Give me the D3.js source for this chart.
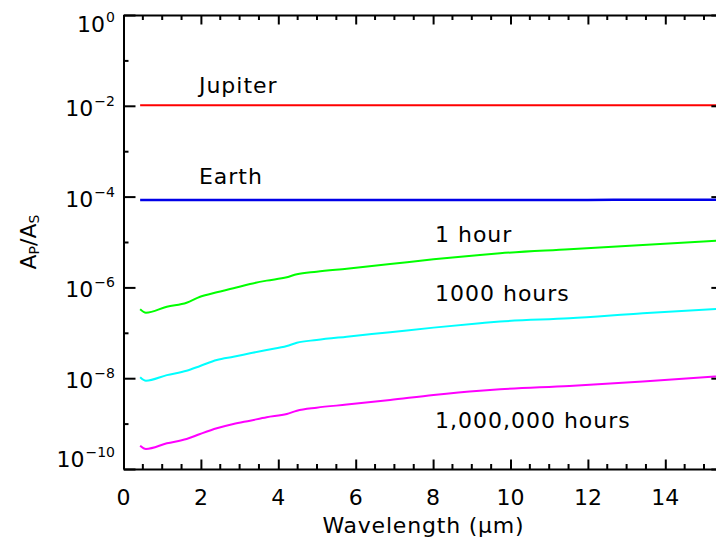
<!DOCTYPE html>
<html>
<head>
<meta charset="utf-8">
<script src="https://cdn.jsdelivr.net/npm/d3@7"></script>
<style>
  html, body { margin: 0; padding: 0; background: #fff; }
  svg { display: block; }
  text { font-family: "DejaVu Sans", sans-serif; fill: #000; }
</style>
</head>
<body>
<svg id="chart" width="716" height="543"></svg>
<script>
// Wavelength samples (µm) shared by the three evolving-planet curves
const wavelength = [0.43, 0.58, 1.12, 1.63, 1.98, 2.41, 2.84, 3.27, 3.70, 4.22,
                    4.48, 4.99, 5.77, 6.89, 8.01, 9.21, 9.73, 11.52, 13.42, 15.31];

// Planet-to-star amplitude ratio after 1 hour
const oneHour = [3.30e-7, 2.77e-7, 3.76e-7, 4.60e-7, 6.24e-7, 7.80e-7, 9.55e-7, 1.19e-6, 1.41e-6, 1.67e-6,
                 1.95e-6, 2.22e-6, 2.59e-6, 3.27e-6, 4.16e-6, 5.18e-6, 5.64e-6, 6.90e-6, 8.59e-6, 1.07e-5];

// ... after 1000 hours
const thousandHours = [1.05e-8, 8.81e-9, 1.17e-8, 1.46e-8, 1.86e-8, 2.52e-8, 2.98e-8, 3.53e-8, 4.18e-8, 5.12e-8,
                       6.05e-8, 6.94e-8, 8.20e-8, 1.03e-7, 1.30e-7, 1.62e-7, 1.77e-7, 2.08e-7, 2.69e-7, 3.34e-7];

// ... after 1,000,000 hours
const millionHours = [3.26e-10, 2.76e-10, 3.68e-10, 4.58e-10, 5.90e-10, 7.87e-10, 9.79e-10, 1.16e-9, 1.38e-9, 1.63e-9,
                      1.92e-9, 2.24e-9, 2.62e-9, 3.31e-9, 4.27e-9, 5.31e-9, 5.70e-9, 6.73e-9, 8.45e-9, 1.09e-8];

// Reference planets (nearly flat in wavelength)
const planetWavelength = [0.43, 2, 4, 6, 8, 10, 12, 14, 15.5];
const jupiter = [1.03e-2, 1.03e-2, 1.03e-2, 1.03e-2, 1.03e-2, 1.03e-2, 1.03e-2, 1.03e-2, 1.03e-2];
const earth   = [8.45e-5, 8.45e-5, 8.4e-5, 8.45e-5, 8.45e-5, 8.4e-5, 8.45e-5, 8.5e-5, 8.5e-5];

// Axis ticks
const xMajorTicks = [0, 2, 4, 6, 8, 10, 12, 14];
const yExponents = [0, -2, -4, -6, -8, -10];

const series = [
  { name: "Jupiter",         x: planetWavelength, y: jupiter,       color: "#ff0000", width: 2,   label: [2.0, 1.9e-2] },
  { name: "Earth",           x: planetWavelength, y: earth,         color: "#0000e8", width: 2.5, label: [2.0, 1.9e-4] },
  { name: "1 hour",          x: wavelength,       y: oneHour,       color: "#00ff00", width: 2,   label: [8.1, 1.0e-5] },
  { name: "1000 hours",      x: wavelength,       y: thousandHours, color: "#00ffff", width: 2,   label: [8.1, 5.0e-7] },
  { name: "1,000,000 hours", x: wavelength,       y: millionHours,  color: "#ff00ff", width: 2,   label: [8.1, 8.0e-10] }
];

const svg = d3.select("#chart");
const margin = { left: 123.5, top: 15, bottom: 469 };

const x = d3.scaleLinear().domain([0, 15.5]).range([margin.left, margin.left + 15.5 * 38.7]);
const y = d3.scaleLog().domain([1e-10, 1]).range([margin.bottom, margin.top]);

const xr = x.range(), yr = y.range();

svg.append("defs").append("clipPath").attr("id", "plot-clip")
  .append("rect")
  .attr("x", xr[0]).attr("y", yr[1])
  .attr("width", xr[1] - xr[0]).attr("height", yr[0] - yr[1]);

// Curves
const line = d3.line()
  .x(d => x(d[0]))
  .y(d => y(d[1]))
  .curve(d3.curveMonotoneX);

const plot = svg.append("g").attr("clip-path", "url(#plot-clip)");
series.forEach(s => {
  plot.append("path")
    .datum(s.x.map((v, i) => [v, s.y[i]]))
    .attr("fill", "none")
    .attr("stroke", s.color)
    .attr("stroke-width", s.width)
    .attr("d", line);
});

// Curve labels
series.forEach(s => {
  svg.append("text")
    .attr("x", x(s.label[0]) - 2)
    .attr("y", y(s.label[1]))
    .attr("font-size", 22)
    .attr("letter-spacing", 1)
    .text(s.name);
});

// Axes: bottom/top with major every 2 and minor every 0.5
const xMinor = d3.range(0, 15.51, 0.5).filter(v => Math.abs(v % 2) > 1e-6);
const axisStroke = g => g.selectAll("line, path").attr("stroke", "#000").attr("stroke-width", 2);

const bottomAxis = svg.append("g").attr("transform", `translate(0,${yr[0]})`)
  .call(d3.axisBottom(x).tickValues(xMajorTicks).tickSize(-9.5).tickSizeOuter(0).tickFormat(""));
bottomAxis.call(axisStroke);
bottomAxis.append("g").selectAll("line").data(xMinor).join("line")
  .attr("x1", d => x(d)).attr("x2", d => x(d)).attr("y1", 0).attr("y2", -5)
  .attr("stroke", "#000").attr("stroke-width", 2);

const topAxis = svg.append("g").attr("transform", `translate(0,${yr[1]})`)
  .call(d3.axisTop(x).tickValues(xMajorTicks).tickSize(-9.5).tickSizeOuter(0).tickFormat(""));
topAxis.call(axisStroke);
topAxis.append("g").selectAll("line").data(xMinor).join("line")
  .attr("x1", d => x(d)).attr("x2", d => x(d)).attr("y1", 0).attr("y2", 5)
  .attr("stroke", "#000").attr("stroke-width", 2);

// X tick labels
svg.append("g").selectAll("text").data(xMajorTicks).join("text")
  .attr("x", d => x(d)).attr("y", 505)
  .attr("text-anchor", "middle").attr("font-size", 22)
  .text(d => d);

// Y axes: a tick at every decade, labels on even exponents
const decades = d3.range(0, -10.5, -1).map(e => Math.pow(10, e));
const majorDecade = v => Math.round(Math.log10(v)) % 2 === 0;

const leftAxis = svg.append("g").attr("transform", `translate(${xr[0]},0)`)
  .call(d3.axisLeft(y).tickValues(decades).tickFormat("").tickSizeOuter(0).tickSizeInner(-12));
leftAxis.call(axisStroke);
leftAxis.selectAll(".tick line").attr("x2", d => majorDecade(d) ? 12 : 5);

const rightAxis = svg.append("g").attr("transform", `translate(${xr[1]},0)`)
  .call(d3.axisRight(y).tickValues(decades).tickFormat("").tickSizeOuter(0).tickSizeInner(-12));
rightAxis.call(axisStroke);
rightAxis.selectAll(".tick line").attr("x2", d => majorDecade(d) ? -12 : -5);

// Y tick labels (10^n), kept inside the axis span at both ends
const yLabels = svg.append("g");
yExponents.forEach(e => {
  let base = y(Math.pow(10, e)) + 10;
  base = Math.max(base, yr[1] + 17);
  base = Math.min(base, yr[0] - 2);
  const t = yLabels.append("text")
    .attr("x", 115).attr("y", base)
    .attr("text-anchor", "end").attr("font-size", 22);
  t.append("tspan").text("10");
  t.append("tspan").attr("dy", -10).attr("dx", 1).attr("font-size", 14)
    .text(e === 0 ? "0" : "\u2212" + Math.abs(e));
});

// Axis titles
svg.append("text")
  .attr("x", (xr[0] + xr[1]) / 2).attr("y", 533)
  .attr("text-anchor", "middle").attr("font-size", 22).attr("letter-spacing", 0.8)
  .text("Wavelength (\u03bcm)");

const yt = svg.append("text")
  .attr("transform", `translate(36,${(yr[0] + yr[1]) / 2}) rotate(-90)`)
  .attr("text-anchor", "middle").attr("font-size", 22);
yt.append("tspan").text("A");
yt.append("tspan").attr("font-size", 14).attr("dy", 3).text("P");
yt.append("tspan").attr("dy", -3).text("/A");
yt.append("tspan").attr("font-size", 14).attr("dy", 3).text("S");
</script>
</body>
</html>
